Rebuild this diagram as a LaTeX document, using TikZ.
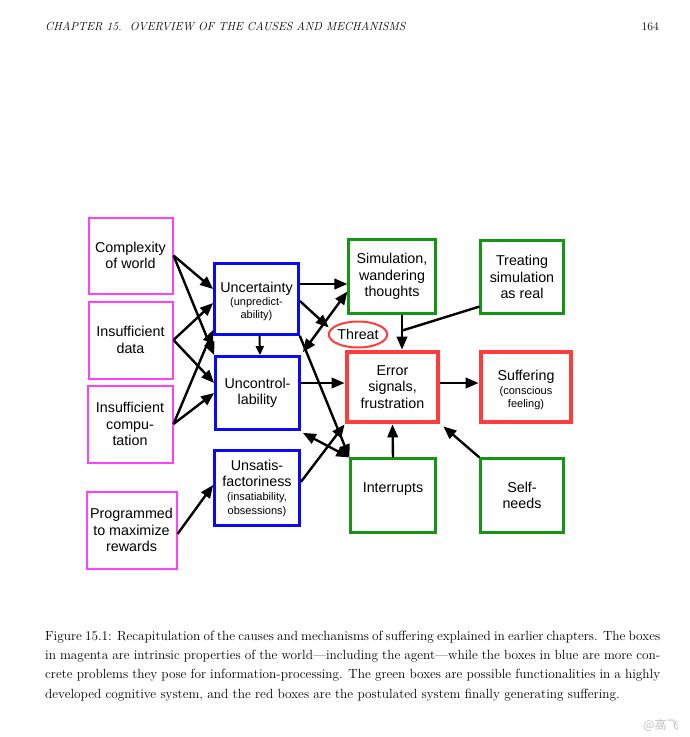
\documentclass[tikz,border=0pt]{standalone}
\usepackage{fontspec}
\setsansfont{Liberation Sans}
\newfontfamily\cjkfont{Noto Sans CJK SC}
\usetikzlibrary{arrows.meta,calc,shapes.geometric}
\definecolor{mag}{RGB}{255,64,255}
\definecolor{blu}{RGB}{10,10,245}
\definecolor{grn}{RGB}{20,150,20}
\definecolor{rd}{RGB}{255,60,60}
\newcommand\smf{\fontsize{11}{13}\selectfont}
\begin{document}
\begin{tikzpicture}[x=1pt,y=-1pt,
 box/.style={draw,rectangle,inner sep=0pt,align=center,font=\sffamily\fontsize{14.3}{16.5}\selectfont},
 magbox/.style={box,draw=mag,line width=2pt},
 blubox/.style={box,draw=blu,line width=2.7pt},
 grnbox/.style={box,draw=grn,line width=2.2pt},
 redbox/.style={box,draw=rd,line width=4.8pt},
 arr/.style={-{Triangle[length=13pt,width=10.5pt]},line width=2.4pt},
 darr/.style={{Triangle[length=13pt,width=10.5pt]}-{Triangle[length=13pt,width=10.5pt]},line width=2.4pt},
 sarr/.style={-{Triangle[length=9pt,width=8pt]},line width=2pt},
 ln/.style={line width=2.4pt}
]
\fill[white] (0,0) rectangle (690,737);
\useasboundingbox (0,0) rectangle (690,737);

\node[magbox,minimum width=84pt,minimum height=76pt] (cw) at (130.5,255.5) {Complexity\\of world};
\node[magbox,minimum width=84pt,minimum height=77pt] (id) at (130.5,340) {Insufficient\\data};
\node[magbox,minimum width=85pt,minimum height=77pt] (ic) at (130,424) {Insufficient\\compu-\\tation};
\node[magbox,minimum width=90pt,minimum height=77pt] (pm) at (131.5,530) {Programmed\\to maximize\\rewards};

\node[blubox,minimum width=84pt,minimum height=71pt] (unc) at (256.5,299) {\rule{0pt}{15pt}Uncertainty\\[-3.5pt]\smf(unpredict-\\[-3pt]\smf ability)};
\node[blubox,minimum width=84pt,minimum height=73pt] (ctl) at (257.5,393) {Uncontrol-\\lability};
\node[blubox,minimum width=85pt,minimum height=75pt] (uns) at (257,488) {Unsatis-\\factoriness\\[-2.5pt]\smf(insatiability,\\[-3pt]\smf obsessions)};

\node[grnbox,minimum width=87pt,minimum height=74pt] (sim) at (392,276.5) {Simulation,\\wandering\\thoughts};
\node[grnbox,minimum width=83pt,minimum height=73pt] (tsr) at (522,277) {Treating\\simulation\\as real};
\node[grnbox,minimum width=85pt,minimum height=74pt] (itr) at (393,495.5) {Interrupts\\\mbox{}};
\node[grnbox,minimum width=83pt,minimum height=74pt] (sn) at (522,495.5) {Self-\\needs};

\node[redbox,minimum width=91pt,minimum height=70pt] (err) at (392.5,387) {Error\\signals,\\frustration};
\node[redbox,minimum width=90pt,minimum height=70pt] (suf) at (526,387) {\rule{0pt}{16.5pt}Suffering\\[-2.5pt]\smf(conscious\\[-3.5pt]\smf feeling)};

\node[ellipse,draw=rd,line width=2pt,minimum width=55pt,minimum height=26pt,inner sep=0pt,font=\sffamily\fontsize{14.3}{16}\selectfont] (threat) at (358,334.5) {Threat};

\draw[arr] (cw.east) -- ($(unc.west)+(0,-10)$);
\draw[arr] (cw.east) -- (ctl.north west);
\draw[arr] (id.east) -- ($(unc.west)+(0,4)$);
\draw[arr] (id.east) -- ($(ctl.west)+(0,-10)$);
\draw[arr] (ic.east) -- ($(unc.south west)+(0,-6)$);
\draw[arr] (ic.east) -- (ctl.west);
\draw[arr] ($(pm.east)+(0,4)$) -- ($(uns.west)+(0,-3)$);
\draw[sarr] ($(unc.south)+(3,0)$) -- ($(ctl.north)+(2.5,0)$);
\draw[arr] ($(unc.east)+(0,-15)$) -- ($(sim.west)+(0,7.5)$);
\draw[arr] ($(unc.east)+(0,2)$) -- ($(threat.west)+(1,-7)$);
\draw[darr] ($(ctl.north east)+(2,-3)$) -- ($(sim.west)+(0,15)$);
\draw[arr] (unc.south east) -- (itr.north west);
\draw[arr] ($(ctl.east)+(0,-10)$) -- ($(err.west)+(0,-4)$);
\draw[darr] ($(ctl.south east)+(2,2)$) -- (itr.north west);
\draw[arr] ($(uns.east)+(0,-6)$) -- (err.south west);
\draw[arr] (itr.north) -- (err.south);
\draw[arr] (sn.north west) -- ($(err.south east)+(3,2)$);
\coordinate (j) at ($(sim.south)+(10,16)$);
\draw[arr] ($(sim.south)+(10,0)$) -- ($(err.north)+(9.5,0)$);
\draw[ln] ($(tsr.south west)+(0,-8)$) -- (j);
\draw[arr] ($(err.east)+(0,-4)$) -- ($(suf.west)+(0,-4)$);

\node[anchor=base west,inner sep=0,font=\fontsize{11.7}{14}\selectfont\itshape] (hdr) at (45,30) {CHAPTER 15.\ \ OVERVIEW OF THE CAUSES AND MECHANISMS};
\node[anchor=base east,inner sep=0,font=\fontsize{11.7}{14}\selectfont] (pg) at (659,30) {164};

\node[anchor=north west,inner sep=0,text width=615pt,align=justify,font=\fontsize{13.3}{19.4}\selectfont] (cap) at (45,630.5) {Figure 15.1: Recapitulation of the causes and mechanisms of suffering explained in earlier chapters. The boxes \linebreak in magenta are intrinsic properties of the world---including the agent---while the boxes in blue are more con-\linebreak crete problems they pose for information-processing. The green boxes are possible functionalities in a highly \linebreak developed cognitive system, and the red boxes are the postulated system finally generating suffering.};

\node[anchor=base west,inner sep=0,text=gray!50,font=\cjkfont\fontsize{12}{14}\selectfont] (wm) at (643,729) {@高飞};
\end{tikzpicture}
\end{document}
